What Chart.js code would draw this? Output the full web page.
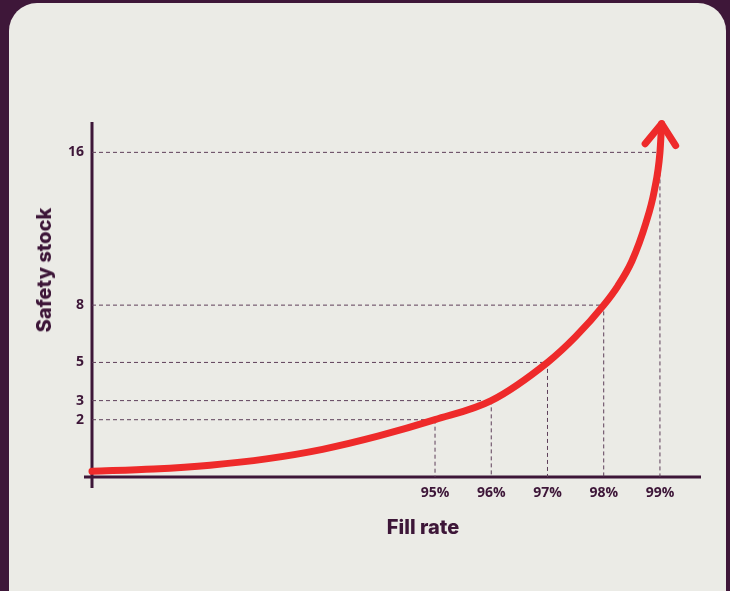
<!DOCTYPE html>
<html>
<head>
<meta charset="utf-8">
<script src="https://cdn.jsdelivr.net/npm/chart.js@4"></script>
<style>
  html, body { margin: 0; padding: 0; }
  body { width: 730px; height: 591px; background: #3e1739; position: relative; overflow: hidden; }
  .card { position: absolute; left: 9px; top: 3px; width: 717px; height: 620px; background: #ebebe6; border-radius: 28px; }
  #chart { position: absolute; left: 0; top: 0; }
  .axis-title { position: absolute; color: #3d1638; font-family: "Inter", sans-serif; font-weight: 800; font-size: 20px; white-space: nowrap; }
  #xTitle { left: 423px; top: 527px; transform: translate(-50%, -50%); }
  #yTitle { left: 44px; top: 270px; transform: translate(-50%, -50%) rotate(-90deg); }
</style>
</head>
<body>
<div class="card"></div>
<canvas id="chart" width="730" height="591"></canvas>
<div class="axis-title" id="xTitle">Fill rate</div>
<div class="axis-title" id="yTitle">Safety stock</div>
<script>
// fill rate (%) marked on the axis and the safety stock read at each one
const fillRates = [95, 96, 97, 98, 99];
const safetyStock = [2, 3, 5, 8, 16];

// the curve as drawn (fill rate %, safety stock)
const curveX = [88.9, 90, 91, 92, 93, 94, 95, 96, 97, 97.5, 98, 98.25, 98.5, 98.75, 98.9, 99, 99.03];
const curveY = [-0.7, -0.58, -0.38, -0.05, 0.45, 1.15, 2, 3, 5, 6.35, 8, 9, 10.3, 12.3, 14, 16, 17.5];

// axis extents
const xMin = 88.9, xMax = 99.73;
const yMin = -1.0, yMax = 17.59;

const purple = '#3d1638';
const red = '#ee2a2a';
const guide = '#5e3f5a';

const curveData = curveX.map((x, i) => ({ x: x, y: curveY[i] }));

// dashed guides: from the y axis across to the curve, then down to the x axis
const guideSets = fillRates.map((fr, i) => ({
    data: [
        { x: xMin, y: safetyStock[i] },
        { x: fr, y: safetyStock[i] },
        { x: fr, y: yMin }
    ],
    borderColor: guide,
    borderWidth: 1,
    borderDash: [4, 3],
    pointRadius: 0,
    fill: false,
    tension: 0,
    clip: false
}));

const axesPlugin = {
    id: 'axes',
    beforeDatasetsDraw(chart) {
        const { ctx, chartArea } = chart;
        ctx.save();
        ctx.strokeStyle = purple;
        ctx.lineWidth = 3;
        ctx.beginPath();
        ctx.moveTo(chartArea.left, chartArea.top);
        ctx.lineTo(chartArea.left, chartArea.bottom + 11);
        ctx.moveTo(chartArea.left - 8, chartArea.bottom);
        ctx.lineTo(chartArea.right, chartArea.bottom);
        ctx.stroke();
        ctx.restore();
    }
};

// arrowhead on the end of the curve
const arrowPlugin = {
    id: 'arrow',
    afterDatasetsDraw(chart) {
        const pts = chart.getDatasetMeta(0).data;
        const tip = pts[pts.length - 1];
        const prev = pts[pts.length - 2];
        const ang = Math.atan2(tip.y - prev.y, tip.x - prev.x);
        const len = 26, spread = 36 * Math.PI / 180;
        const ctx = chart.ctx;
        ctx.save();
        ctx.strokeStyle = red;
        ctx.lineWidth = 7;
        ctx.lineCap = 'round';
        ctx.lineJoin = 'round';
        ctx.beginPath();
        ctx.moveTo(tip.x - len * Math.cos(ang - spread), tip.y - len * Math.sin(ang - spread));
        ctx.lineTo(tip.x, tip.y);
        ctx.lineTo(tip.x - len * Math.cos(ang + spread), tip.y - len * Math.sin(ang + spread));
        ctx.stroke();
        ctx.restore();
    }
};

new Chart(document.getElementById('chart'), {
    type: 'line',
    data: {
        datasets: [
            {
                data: curveData,
                borderColor: red,
                borderWidth: 7,
                borderCapStyle: 'round',
                cubicInterpolationMode: 'monotone',
                pointRadius: 0,
                fill: false,
                clip: false
            },
            ...guideSets
        ]
    },
    options: {
        responsive: false,
        devicePixelRatio: 1,
        animation: false,
        layout: { padding: { top: 122, right: 29, left: 0, bottom: 0 } },
        plugins: {
            legend: { display: false },
            tooltip: { enabled: false }
        },
        scales: {
            x: {
                type: 'linear',
                min: xMin,
                max: xMax,
                afterFit: (s) => { s.height = 114; },
                afterBuildTicks: (s) => { s.ticks = fillRates.map(v => ({ value: v })); },
                grid: { display: false, drawTicks: false },
                border: { display: false },
                ticks: {
                    padding: 8,
                    color: purple,
                    font: { family: 'Open Sans', weight: '700', size: 14 },
                    callback: (v) => v + '%'
                }
            },
            y: {
                type: 'linear',
                min: yMin,
                max: yMax,
                afterFit: (s) => { s.width = 92; },
                afterBuildTicks: (s) => { s.ticks = safetyStock.map(v => ({ value: v })); },
                grid: { display: false, drawTicks: false },
                border: { display: false },
                ticks: {
                    padding: 8,
                    color: purple,
                    font: { family: 'Open Sans', weight: '700', size: 14 }
                }
            }
        }
    },
    plugins: [axesPlugin, arrowPlugin]
});
</script>
</body>
</html>
